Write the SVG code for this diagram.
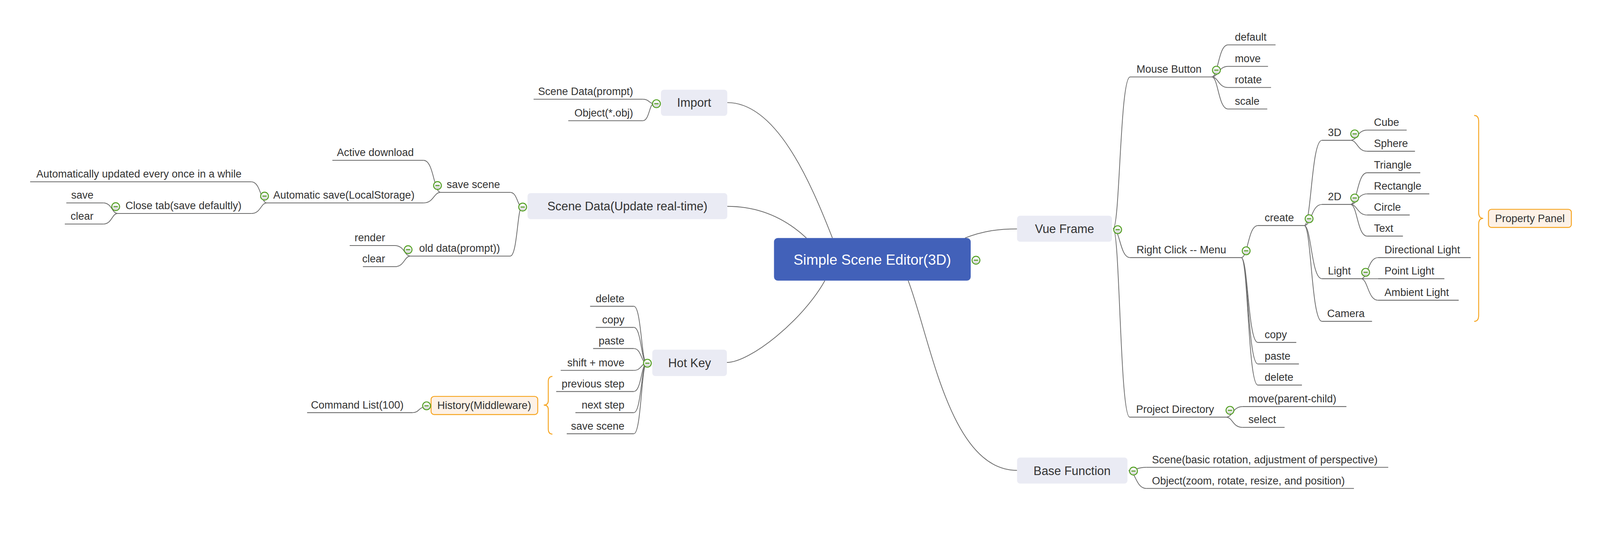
<svg xmlns="http://www.w3.org/2000/svg" xmlns:xlink="http://www.w3.org/1999/xlink" width="4246" height="1376" viewBox="0 0 4246 1376" preserveAspectRatio="xMinYMin meet">
<defs>
<linearGradient id="icg" x1="0" y1="0" x2="0" y2="1"><stop offset="0" stop-color="#ffffff"/><stop offset="1" stop-color="#d4d4d4"/></linearGradient>
<g id="col"><circle r="10.5" fill="url(#icg)" stroke="#4f9e1e" stroke-width="2.4"/><line x1="-5.5" y1="0" x2="5.5" y2="0" stroke="#4f9e1e" stroke-width="2.6"/></g>
</defs>
<style>
:root{width:100vw;height:100vh}
text{font-family:"Liberation Sans",Arial,"Noto Sans",sans-serif;fill:#333333}
.s{font-size:28px}
.m{font-size:32px}
.e{text-anchor:end}
.c{text-anchor:middle}
.ul{stroke:#6b6b6b;stroke-width:2.2;fill:none}
.ln{stroke:#6b6b6b;stroke-width:2;fill:none}
.box{fill:#eaebf4}
.sum{fill:#fdf1e6;stroke:#f6a623;stroke-width:2.5}
.br{fill:none;stroke:#f6a623;stroke-width:2.5}
</style>
<rect width="4246" height="1376" fill="#ffffff"/>

<g id="connectors">
<path class="ln" d="M1930,272 C2060,272 2150,480 2209,631"/>
<path class="ln" d="M1930,547 C2010,547 2080,575 2140,631"/>
<path class="ln" d="M1929,961 C1990,961 2130,850 2189,744"/>
<path class="ln" d="M2561,631 C2610,612 2650,607 2699,607"/>
<path class="ln" d="M2410,744 C2470,900 2520,1247 2699,1247"/>
<path class="ln" d="M2954,606 C2972,606 2972,204 2999,204"/>
<path class="ln" d="M2954,606 C2972,606 2972,683 2999,683"/>
<path class="ln" d="M2954,606 C2972,606 2972,1106 2998,1106"/>
<path class="ln" d="M3216,204 C3233,204 3233,119 3259,119"/>
<path class="ln" d="M3216,204 C3233,204 3233,176 3259,176"/>
<path class="ln" d="M3216,204 C3233,204 3233,232 3259,232"/>
<path class="ln" d="M3216,204 C3233,204 3233,289 3259,289"/>
<path class="ln" d="M3294,683 C3312,683 3312,598 3338,598"/>
<path class="ln" d="M3294,683 C3312,683 3312,908 3338,908"/>
<path class="ln" d="M3294,683 C3312,683 3312,965 3338,965"/>
<path class="ln" d="M3294,683 C3312,683 3312,1021 3338,1021"/>
<path class="ln" d="M3461,598 C3480,598 3480,372 3508,372"/>
<path class="ln" d="M3461,598 C3480,598 3480,542 3508,542"/>
<path class="ln" d="M3461,598 C3480,598 3480,739 3508,739"/>
<path class="ln" d="M3461,598 C3480,598 3480,852 3508,852"/>
<path class="ln" d="M3584,372 C3602,372 3602,345 3628,345"/>
<path class="ln" d="M3584,372 C3602,372 3602,401 3628,401"/>
<path class="ln" d="M3584,542 C3602,542 3602,458 3628,458"/>
<path class="ln" d="M3584,542 C3602,542 3602,514 3628,514"/>
<path class="ln" d="M3584,542 C3602,542 3602,570 3628,570"/>
<path class="ln" d="M3584,542 C3602,542 3602,626 3628,626"/>
<path class="ln" d="M3612,739 C3630,739 3630,683 3657,683"/>
<path class="ln" d="M3612,739 L3657,739"/>
<path class="ln" d="M3612,739 C3630,739 3630,796 3657,796"/>
<path class="ln" d="M3254,1106 C3271,1106 3271,1078 3297,1078"/>
<path class="ln" d="M3254,1106 C3271,1106 3271,1133 3297,1133"/>
<path class="ln" d="M2995,1248 C3014,1248 3014,1239 3042,1239"/>
<path class="ln" d="M2995,1248 C3014,1248 3014,1295 3042,1295"/>
<path class="ln" d="M1735,275 C1723,275 1723,263 1706,263"/>
<path class="ln" d="M1735,275 C1723,275 1723,320 1706,320"/>
<path class="ln" d="M1385,548 C1373,548 1373,510 1354,510"/>
<path class="ln" d="M1385,548 C1373,548 1373,679 1354,679"/>
<path class="ln" d="M1169,510 C1151,510 1151,425 1124,425"/>
<path class="ln" d="M1169,510 C1151,510 1151,538 1124,538"/>
<path class="ln" d="M708,538 C692,538 692,482 667,482"/>
<path class="ln" d="M708,538 C692,538 692,566 667,566"/>
<path class="ln" d="M312,566 C297,566 297,538 274,538"/>
<path class="ln" d="M312,566 C297,566 297,594 274,594"/>
<path class="ln" d="M1089,679 C1073,679 1073,651 1048,651"/>
<path class="ln" d="M1089,679 C1073,679 1073,707 1048,707"/>
<path class="ln" d="M1716,963 C1702,963 1702,812 1682,812"/>
<path class="ln" d="M1716,963 C1702,963 1702,868 1682,868"/>
<path class="ln" d="M1716,963 C1702,963 1702,924 1682,924"/>
<path class="ln" d="M1716,963 C1702,963 1702,982 1682,982"/>
<path class="ln" d="M1716,963 C1702,963 1702,1038 1682,1038"/>
<path class="ln" d="M1716,963 C1702,963 1702,1094 1682,1094"/>
<path class="ln" d="M1716,963 C1702,963 1702,1150 1682,1150"/>
<path class="ln" d="M1124,1080 C1112,1080 1112,1094 1095,1094"/>
<path class="br" d="M1466,998 Q1455,998 1455,1012 L1455,1062 Q1455,1074 1443,1074 Q1455,1074 1455,1086 L1455,1137 Q1455,1151 1466,1151"/>
<path class="br" d="M3912,306 Q3924,306 3924,322 L3924,563 Q3924,579 3936,579 Q3924,579 3924,595 L3924,836 Q3924,852 3912,852"/>
</g>

<g id="n-root">
<rect x="2054" y="631" width="522" height="113" rx="10" fill="#4261b9"/>
<text x="2315" y="702" class="c" style="font-size:38px;fill:#ffffff">Simple Scene Editor(3D)</text>
<use href="#col" x="2590" y="690"/>
</g>

<g id="n-import">
<rect class="box" x="1754" y="238" width="176" height="69" rx="8"/>
<text class="m c" x="1842" y="283">Import</text>
<use href="#col" x="1742" y="275"/>
</g>
<g id="n-scenedata">
<rect class="box" x="1400" y="512" width="530" height="69" rx="8"/>
<text class="m c" x="1665" y="558">Scene Data(Update real-time)</text>
<use href="#col" x="1387" y="549"/>
</g>
<g id="n-hotkey">
<rect class="box" x="1731" y="927" width="198" height="70" rx="8"/>
<text class="m c" x="1830" y="973">Hot Key</text>
<use href="#col" x="1718" y="963"/>
</g>

<g id="n-import-scene"><line class="ul" x1="1416" y1="263" x2="1706" y2="263"/><text class="s e" x="1680" y="252">Scene Data(prompt)</text></g>
<g id="n-import-obj"><line class="ul" x1="1508" y1="320" x2="1706" y2="320"/><text class="s e" x="1680" y="309">Object(*.obj)</text></g>

<g id="n-savescene"><line class="ul" x1="1169" y1="510" x2="1354" y2="510"/><text class="s e" x="1327" y="499">save scene</text><use href="#col" x="1161" y="492"/></g>
<g id="n-active"><line class="ul" x1="882" y1="425" x2="1124" y2="425"/><text class="s e" x="1098" y="414">Active download</text></g>
<g id="n-autosave"><line class="ul" x1="708" y1="538" x2="1124" y2="538"/><text class="s e" x="1100" y="527">Automatic save(LocalStorage)</text><use href="#col" x="702" y="520"/></g>
<g id="n-autoupd"><line class="ul" x1="80" y1="482" x2="667" y2="482"/><text class="s e" x="641" y="471">Automatically updated every once in a while</text></g>
<g id="n-closetab"><line class="ul" x1="312" y1="566" x2="667" y2="566"/><text class="s e" x="641" y="555">Close tab(save defaultly)</text><use href="#col" x="307" y="548"/></g>
<g id="n-ct-save"><line class="ul" x1="176" y1="538" x2="274" y2="538"/><text class="s e" x="248" y="527">save</text></g>
<g id="n-ct-clear"><line class="ul" x1="172" y1="594" x2="274" y2="594"/><text class="s e" x="248" y="583">clear</text></g>
<g id="n-olddata"><line class="ul" x1="1089" y1="679" x2="1354" y2="679"/><text class="s e" x="1327" y="668">old data(prompt))</text><use href="#col" x="1083" y="662"/></g>
<g id="n-od-render"><line class="ul" x1="928" y1="651" x2="1048" y2="651"/><text class="s e" x="1022" y="640">render</text></g>
<g id="n-od-clear"><line class="ul" x1="963" y1="707" x2="1048" y2="707"/><text class="s e" x="1022" y="696">clear</text></g>

<g id="n-hk-delete"><line class="ul" x1="1566" y1="812" x2="1682" y2="812"/><text class="s e" x="1657" y="801">delete</text></g>
<g id="n-hk-copy"><line class="ul" x1="1581" y1="868" x2="1682" y2="868"/><text class="s e" x="1657" y="857">copy</text></g>
<g id="n-hk-paste"><line class="ul" x1="1574" y1="924" x2="1682" y2="924"/><text class="s e" x="1657" y="913">paste</text></g>
<g id="n-hk-shift"><line class="ul" x1="1488" y1="982" x2="1682" y2="982"/><text class="s e" x="1657" y="971">shift + move</text></g>
<g id="n-hk-prev"><line class="ul" x1="1476" y1="1038" x2="1682" y2="1038"/><text class="s e" x="1657" y="1027">previous step</text></g>
<g id="n-hk-next"><line class="ul" x1="1527" y1="1094" x2="1682" y2="1094"/><text class="s e" x="1657" y="1083">next step</text></g>
<g id="n-hk-save"><line class="ul" x1="1504" y1="1150" x2="1682" y2="1150"/><text class="s e" x="1657" y="1139">save scene</text></g>

<g id="n-history">
<rect class="sum" x="1144" y="1051" width="283" height="48" rx="8"/>
<text class="s c" x="1285" y="1084">History(Middleware)</text>
<use href="#col" x="1132" y="1076"/>
</g>
<g id="n-cmdlist"><line class="ul" x1="815" y1="1094" x2="1095" y2="1094"/><text class="s e" x="1071" y="1083">Command List(100)</text></g>

<g id="n-vue">
<rect class="box" x="2699" y="572" width="252" height="69" rx="8"/>
<text class="m c" x="2825" y="618">Vue Frame</text>
<use href="#col" x="2966" y="609"/>
</g>
<g id="n-base">
<rect class="box" x="2699" y="1213" width="293" height="69" rx="8"/>
<text class="m c" x="2845" y="1259">Base Function</text>
<use href="#col" x="3008" y="1249"/>
</g>

<g id="n-mouse"><line class="ul" x1="2999" y1="204" x2="3216" y2="204"/><text class="s" x="3016" y="193">Mouse Button</text><use href="#col" x="3228" y="186"/></g>
<g id="n-m-default"><line class="ul" x1="3259" y1="119" x2="3385" y2="119"/><text class="s" x="3277" y="108">default</text></g>
<g id="n-m-move"><line class="ul" x1="3259" y1="176" x2="3365" y2="176"/><text class="s" x="3277" y="165">move</text></g>
<g id="n-m-rotate"><line class="ul" x1="3259" y1="232" x2="3373" y2="232"/><text class="s" x="3277" y="221">rotate</text></g>
<g id="n-m-scale"><line class="ul" x1="3259" y1="289" x2="3363" y2="289"/><text class="s" x="3277" y="278">scale</text></g>

<g id="n-rightclick"><line class="ul" x1="2999" y1="683" x2="3294" y2="683"/><text class="s" x="3016" y="672">Right Click -- Menu</text><use href="#col" x="3307" y="665"/></g>
<g id="n-create"><line class="ul" x1="3338" y1="598" x2="3461" y2="598"/><text class="s" x="3356" y="587">create</text><use href="#col" x="3474" y="580"/></g>
<g id="n-rc-copy"><line class="ul" x1="3338" y1="908" x2="3440" y2="908"/><text class="s" x="3356" y="897">copy</text></g>
<g id="n-rc-paste"><line class="ul" x1="3338" y1="965" x2="3447" y2="965"/><text class="s" x="3356" y="954">paste</text></g>
<g id="n-rc-delete"><line class="ul" x1="3338" y1="1021" x2="3455" y2="1021"/><text class="s" x="3356" y="1010">delete</text></g>

<g id="n-3d"><line class="ul" x1="3508" y1="372" x2="3584" y2="372"/><text class="s" x="3524" y="361">3D</text><use href="#col" x="3595" y="355"/></g>
<g id="n-cube"><line class="ul" x1="3628" y1="345" x2="3733" y2="345"/><text class="s" x="3646" y="334">Cube</text></g>
<g id="n-sphere"><line class="ul" x1="3628" y1="401" x2="3755" y2="401"/><text class="s" x="3646" y="390">Sphere</text></g>
<g id="n-2d"><line class="ul" x1="3508" y1="542" x2="3584" y2="542"/><text class="s" x="3524" y="531">2D</text><use href="#col" x="3595" y="525"/></g>
<g id="n-triangle"><line class="ul" x1="3628" y1="458" x2="3769" y2="458"/><text class="s" x="3646" y="447">Triangle</text></g>
<g id="n-rectangle"><line class="ul" x1="3628" y1="514" x2="3793" y2="514"/><text class="s" x="3646" y="503">Rectangle</text></g>
<g id="n-circle"><line class="ul" x1="3628" y1="570" x2="3741" y2="570"/><text class="s" x="3646" y="559">Circle</text></g>
<g id="n-text"><line class="ul" x1="3628" y1="626" x2="3723" y2="626"/><text class="s" x="3646" y="615">Text</text></g>
<g id="n-light"><line class="ul" x1="3508" y1="739" x2="3612" y2="739"/><text class="s" x="3524" y="728">Light</text><use href="#col" x="3624" y="722"/></g>
<g id="n-dirlight"><line class="ul" x1="3657" y1="683" x2="3903" y2="683"/><text class="s" x="3674" y="672">Directional Light</text></g>
<g id="n-pointlight"><line class="ul" x1="3657" y1="739" x2="3833" y2="739"/><text class="s" x="3674" y="728">Point Light</text></g>
<g id="n-amblight"><line class="ul" x1="3657" y1="796" x2="3871" y2="796"/><text class="s" x="3674" y="785">Ambient Light</text></g>
<g id="n-camera"><line class="ul" x1="3508" y1="852" x2="3641" y2="852"/><text class="s" x="3522" y="841">Camera</text></g>

<g id="n-property">
<rect class="sum" x="3950" y="555" width="220" height="48" rx="8"/>
<text class="s c" x="4060" y="589">Property Panel</text>
</g>

<g id="n-projdir"><line class="ul" x1="2998" y1="1106" x2="3254" y2="1106"/><text class="s" x="3015" y="1095">Project Directory</text><use href="#col" x="3264" y="1088"/></g>
<g id="n-pd-move"><line class="ul" x1="3297" y1="1078" x2="3573" y2="1078"/><text class="s" x="3313" y="1067">move(parent-child)</text></g>
<g id="n-pd-select"><line class="ul" x1="3297" y1="1133" x2="3409" y2="1133"/><text class="s" x="3313" y="1122">select</text></g>

<g id="n-bf-scene"><line class="ul" x1="3042" y1="1239" x2="3684" y2="1239"/><text class="s" x="3057" y="1228">Scene(basic rotation, adjustment of perspective)</text></g>
<g id="n-bf-object"><line class="ul" x1="3042" y1="1295" x2="3593" y2="1295"/><text class="s" x="3057" y="1284">Object(zoom, rotate, resize, and position)</text></g>
</svg>
